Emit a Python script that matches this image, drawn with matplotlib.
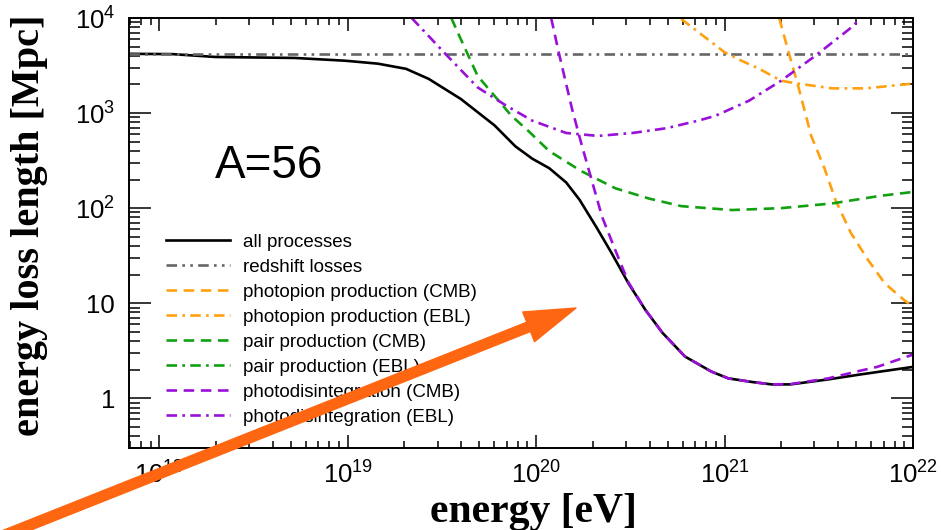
import numpy as np
import matplotlib
matplotlib.use("Agg")
import matplotlib.pyplot as plt
from matplotlib.ticker import FuncFormatter, LogLocator

plt.rcParams['font.family'] = ['Liberation Sans', 'DejaVu Sans']

# energy loss lengths for iron (A=56), energies as log10(E/eV), lengths in Mpc
lgE_all = [17.84, 18.07, 18.30, 18.72, 18.99, 19.16, 19.31, 19.43, 19.60, 19.78,
           19.89, 19.98, 20.07, 20.16, 20.23, 20.32, 20.40, 20.49, 20.58, 20.67,
           20.79, 20.93, 21.02, 21.15, 21.25, 21.35, 21.55, 21.72, 22.0]
L_all = [4200, 4170, 3890, 3800, 3550, 3310, 2920, 2290, 1410, 741,
         447, 331, 263, 186, 123, 63.1, 33.9, 16.2, 8.51, 4.90,
         2.75, 1.91, 1.62, 1.48, 1.40, 1.40, 1.58, 1.78, 2.14]

lgE_z = [17.84, 22.0]
L_z = [4200, 4200]

lgE_pion_cmb = [21.29, 21.34, 21.39, 21.46, 21.53, 21.59, 21.67, 21.76, 21.85, 21.96, 22.0]
L_pion_cmb = [10000, 4365, 1950, 575, 263, 120, 55, 28.8, 16.2, 10.5, 9.3]

lgE_pion_ebl = [20.77, 21.00, 21.09, 21.18, 21.30, 21.39, 21.57, 21.75, 22.0]
L_pion_ebl = [9772, 4365, 3550, 2951, 2188, 2042, 1820, 1820, 2042]

lgE_pair_cmb = [19.55, 19.60, 19.69, 19.78, 19.87, 19.96, 20.07, 20.24, 20.42,
                20.60, 20.77, 21.04, 21.30, 21.57, 21.83, 22.0]
L_pair_cmb = [10000, 6026, 2455, 1514, 933, 646, 398, 245, 162,
              126, 105, 95.5, 100, 112, 135, 148]

# pair production on the EBL stays above the plotted range
lgE_pair_ebl = []
L_pair_ebl = []

lgE_pd_cmb = [20.08, 20.12, 20.19, 20.24, 20.30, 20.35, 20.42, 20.49, 20.58, 20.67,
              20.79, 20.93, 21.02, 21.15, 21.25, 21.35, 21.55, 21.72, 21.81, 21.97, 22.0]
L_pd_cmb = [10000, 4365, 1122, 479, 182, 81.3, 36.3, 16.6, 8.51, 4.90,
            2.75, 1.91, 1.62, 1.48, 1.40, 1.41, 1.62, 1.95, 2.14, 2.75, 2.88]

lgE_pd_ebl = [19.34, 19.52, 19.69, 19.84, 19.98, 20.16, 20.33, 20.51, 20.69, 20.86,
              20.95, 21.13, 21.30, 21.48, 21.66, 21.72]
L_pd_ebl = [10000, 4169, 1862, 1202, 832, 617, 575, 617, 692, 832,
            933, 1349, 2188, 3981, 7586, 9772]

dash = (0, (4, 2.5))
dashdot = (0, (4, 2, 1, 2))
dashdotdot = (0, (4, 2, 1, 2, 1, 2))
orange = '#ffa010'
green = '#10a010'
purple = '#9a10d8'

fig = plt.figure(figsize=(9.41, 5.30), dpi=100)
ax = fig.add_axes([129 / 941, 1 - 448 / 530, 784 / 941, 430 / 530])

lw = 1.9
ax.plot(10 ** np.array(lgE_all), L_all, color='black', lw=lw, label='all processes')
ax.plot(10 ** np.array(lgE_z), L_z, color='#666666', lw=lw, ls=dashdotdot, label='redshift losses')
ax.plot(10 ** np.array(lgE_pion_cmb), L_pion_cmb, color=orange, lw=lw, ls=dash,
        label='photopion production (CMB)')
ax.plot(10 ** np.array(lgE_pion_ebl), L_pion_ebl, color=orange, lw=lw, ls=dashdot,
        label='photopion production (EBL)')
ax.plot(10 ** np.array(lgE_pair_cmb), L_pair_cmb, color=green, lw=lw, ls=dash,
        label='pair production (CMB)')
ax.plot(10 ** np.array(lgE_pair_ebl, dtype=float), L_pair_ebl, color=green, lw=lw, ls=dashdot,
        label='pair production (EBL)')
ax.plot(10 ** np.array(lgE_pd_cmb), L_pd_cmb, color=purple, lw=lw, ls=dash,
        label='photodisintegration (CMB)')
ax.plot(10 ** np.array(lgE_pd_ebl), L_pd_ebl, color=purple, lw=lw, ls=dashdot,
        label='photodisintegration (EBL)')

ax.set_xscale('log')
ax.set_yscale('log')
ax.set_xlim(10 ** 17.84, 1e22)
ax.set_ylim(0.3, 1e4)


def pow_label(v, pos):
    e = int(round(np.log10(v)))
    if e == 0:
        return '1'
    if e == 1:
        return '10'
    return r'$\mathregular{10^{%d}}$' % e


ax.xaxis.set_major_locator(LogLocator(base=10, numticks=20))
ax.xaxis.set_minor_locator(LogLocator(base=10, subs=np.arange(2, 10), numticks=50))
ax.yaxis.set_major_locator(LogLocator(base=10, numticks=20))
ax.yaxis.set_minor_locator(LogLocator(base=10, subs=np.arange(2, 10), numticks=50))
ax.xaxis.set_major_formatter(FuncFormatter(lambda v, p: r'$\mathregular{10^{%d}}$' % round(np.log10(v))))
ax.yaxis.set_major_formatter(FuncFormatter(pow_label))
ax.xaxis.set_minor_formatter(FuncFormatter(lambda v, p: ''))
ax.yaxis.set_minor_formatter(FuncFormatter(lambda v, p: ''))

ax.tick_params(which='both', direction='in', top=True, right=True, width=1.1,
               labelsize=18.5, color='black')
ax.tick_params(axis='x', which='major', length=9.5, pad=10)
ax.tick_params(axis='x', which='minor', length=5)
ax.tick_params(axis='y', which='major', length=15.5, pad=10)
ax.tick_params(axis='y', which='minor', length=8)
for s in ax.spines.values():
    s.set_linewidth(1.4)

ax.text(215, 530 - 178, 'A=56', fontsize=33, transform=None, va='baseline', ha='left')

ax.legend(loc='upper left', bbox_to_anchor=(0.047, 0.498), frameon=False, fontsize=13.5,
          handlelength=3.4, handletextpad=0.7, labelspacing=0.42, borderpad=0,
          borderaxespad=0)

fig.text(534 / 941, 1 - 522 / 530, 'energy [eV]', fontsize=30, fontweight='bold',
         family='Liberation Serif', ha='center', va='baseline')
fig.text(30 / 941, 1 - 225 / 530, 'energy loss length [Mpc]', fontsize=29, fontweight='bold',
         family='Liberation Serif', ha='center', va='center', rotation=90)

ax.annotate('', xy=(576, 530 - 308), xycoords='figure pixels',
            xytext=(0, 530 - 537), textcoords='figure pixels',
            arrowprops=dict(arrowstyle='simple,head_length=3.67,head_width=2.3,tail_width=0.72',
                            mutation_scale=10, color='#ff6611', shrinkA=0, shrinkB=0),
            annotation_clip=False, zorder=10)

fig.savefig('out.png', dpi=100)
